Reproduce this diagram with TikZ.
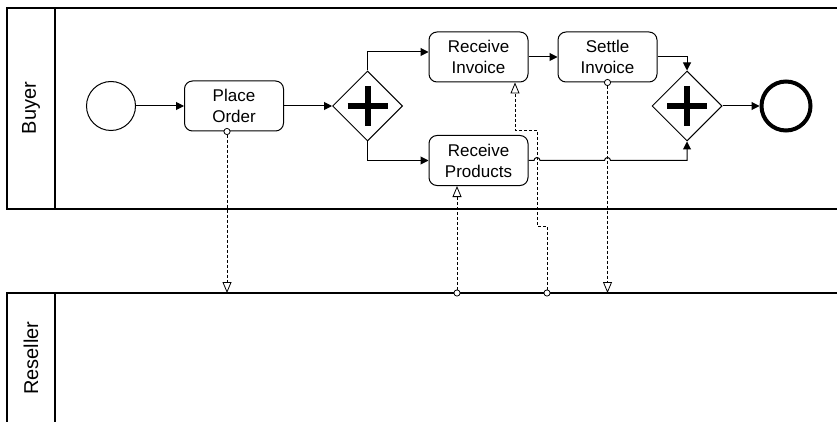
\documentclass[tikz,border=0pt]{standalone}
\usepackage{fontspec}
\setmainfont{Liberation Sans}
\usetikzlibrary{arrows.meta, positioning, shapes.geometric, calc}

\begin{document}
\begin{tikzpicture}[
  x=1pt, y=-1pt,
  font=\fontsize{17}{21}\selectfont,
  flow/.style={-{Triangle[length=8pt, width=8pt]}, line width=1pt},
  msg/.style={{Circle[length=7pt, width=7pt, fill=white]}-{Triangle[length=11pt, width=9pt, fill=white]}, dash pattern=on 3pt off 2pt, line width=0.8pt, shorten <=-3.5pt},
  task/.style={draw, rounded corners=8pt, align=center, minimum width=99pt, minimum height=50pt, inner sep=2pt, line width=1pt},
  gateway/.style={draw, diamond, minimum width=70pt, minimum height=70pt, inner sep=0pt, line width=1pt},
  cross/.style={line width=6pt},
  event/.style={draw, circle, minimum size=49pt, inner sep=0pt, line width=1pt},
  lane/.style={line width=1.2pt},
  lanelbl/.style={rotate=90, font=\fontsize{20}{22}\selectfont},
  node distance=48pt
]
\useasboundingbox (0,0) rectangle (837,422);

% =========================
% Pools
% =========================
\draw[lane] (837,8) -- (7,8) -- (7,209) -- (837,209);
\draw[lane] (55,8) -- (55,209);
\draw[lane] (837,293) -- (7,293) -- (7,425);
\draw[lane] (55,293) -- (55,425);

\node[lanelbl] (buyer) at (31,108) {Buyer};
\node[lanelbl] (reseller) at (31,358) {Reseller};

% =========================
% Buyer process
% =========================
\node[event] (start) at (111,106) {};
\node[task, right=48pt of start] (place) {Place\\Order};
\node[gateway, right=48pt of place] (gw1) {};

\node[task] (ri) at (478.5,57) {Receive\\Invoice};
\node[task, right=29pt of ri] (si) {Settle\\Invoice};
\node[task] (rp) at (478.5,160.5) {Receive\\Products};

\node[gateway] (gw2) at (687,106) {};
\node[event, line width=4pt, right=37pt of gw2] (end) {};

% plus signs
\foreach \g in {gw1, gw2}
  \draw[cross] (\g.center) ++(-20,0) -- ++(40,0) (\g.center) ++(0,-20) -- ++(0,40);

\draw[flow] (start) -- (place);
\draw[flow] (place) -- (gw1);
\draw[flow] (gw1.north) |- ([yshift=5pt]ri.west);
\draw[flow] (gw1.south) |- (rp.west);
\draw[flow] (ri) -- (si);
\draw[flow] (si.east) -| (gw2.north);
\draw[flow] (gw2) -- (end);

% =========================
% Message flows
% =========================
\coordinate (res1) at (227,293);
\coordinate (res2) at (457,293);
\coordinate (res3) at (547,293);
\coordinate (step1) at (537,226);
\coordinate (step2) at (515,130);

\draw[msg] (place.south -| res1) -- (res1);
\draw[msg] (res2) -- (res2 |- rp.south);
\draw[msg] (res3) |- (step1) |- (step2) -- (step2 |- ri.south);
\draw[msg] (si.south) -- (si.south |- res1);

% products flow jumps over the message lines
\draw[flow] (rp.east) -- ([xshift=-3pt]rp.east -| step1)
  arc[start angle=180, end angle=0, radius=3pt]
  -- ([xshift=-3pt]rp.east -| si.south)
  arc[start angle=180, end angle=0, radius=3pt]
  -| (gw2.south);

\end{tikzpicture}
\end{document}
